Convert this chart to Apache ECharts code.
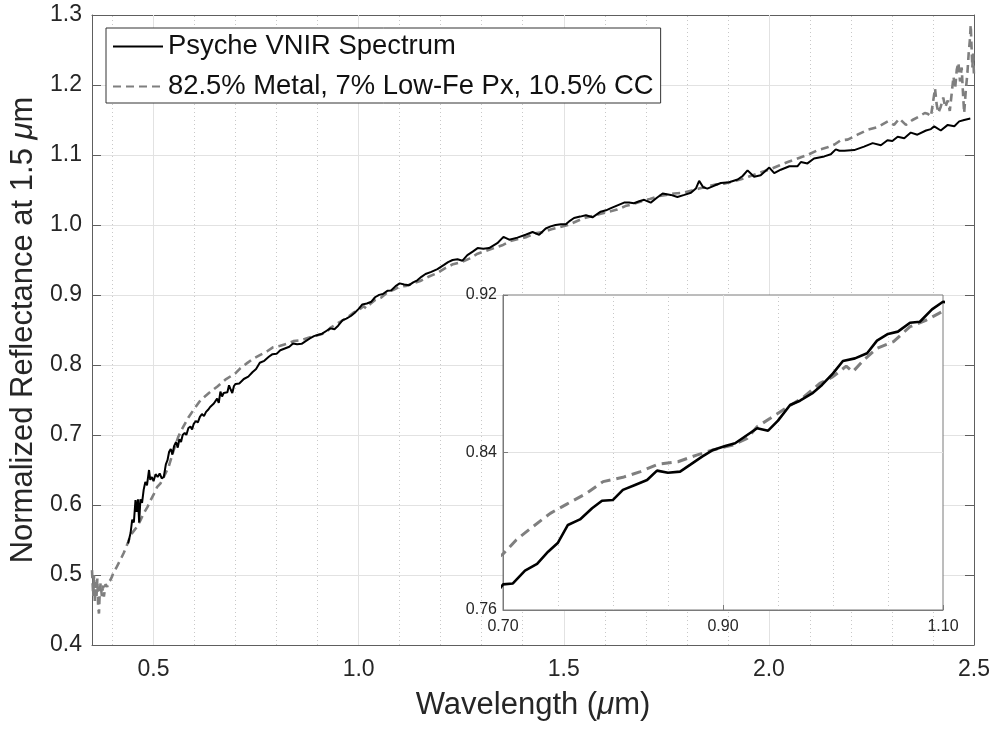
<!DOCTYPE html>
<html>
<head>
<meta charset="utf-8">
<script src="https://cdn.jsdelivr.net/npm/echarts@6/dist/echarts.min.js"></script>
<style>
  html, body { margin: 0; padding: 0; background: #fff; }
  #chart { width: 995px; height: 730px; }
</style>
</head>
<body>
<div id="chart"></div>
<script>
// Psyche VNIR spectrum (black)
var psycheWl = [0.438,0.444,0.448,0.452,0.456,0.459,0.462,0.465,0.468,0.472,0.476,0.480,0.484,0.489,0.492,0.496,0.500,0.505,0.510,0.515,0.520,0.525,0.530,0.534,0.538,0.542,0.546,0.550,0.555,0.559,0.563,0.567,0.571,0.576,0.580,0.585,0.590,0.594,0.598,0.603,0.608,0.613,0.618,0.623,0.628,0.633,0.638,0.642,0.647,0.651,0.655,0.659,0.663,0.667,0.671,0.675,0.680,0.684,0.688,0.692,0.696,0.700,
  0.709,0.720,0.731,0.741,0.750,0.759,0.770,0.781,0.790,0.800,0.809,0.820,0.831,0.840,0.850,0.861,0.870,0.881,0.891,0.902,0.911,0.922,0.931,0.941,0.950,0.961,0.970,0.981,0.990,1.000,1.009,1.020,1.031,1.040,1.050,1.059,1.070,1.079,1.090,1.100,
  1.111,1.123,1.133,1.143,1.153,1.163,1.177,1.192,1.208,1.218,1.229,1.241,1.253,1.265,1.278,1.290,1.304,1.318,1.338,1.353,1.367,1.387,1.407,1.424,1.440,1.456,1.468,1.480,1.493,1.505,1.515,1.525,1.540,1.554,1.570,1.590,1.603,1.615,1.631,1.647,1.659,1.671,1.684,1.696,1.712,1.727,1.741,1.761,1.777,1.794,1.810,1.822,1.830,1.840,1.850,1.866,1.883,1.903,1.924,1.936,1.948,1.964,1.980,2.001,2.013,2.029,2.050,2.070,2.078,2.094,2.110,2.135,2.151,2.163,2.172,2.184,2.208,2.232,2.253,2.273,2.289,2.301,2.314,2.330,2.346,2.362,2.383,2.395,2.403,2.419,2.436,2.452,2.464,2.476,2.491];
var psycheRefl = [0.545,0.560,0.579,0.575,0.607,0.590,0.608,0.575,0.608,0.603,0.622,0.633,0.628,0.650,0.636,0.640,0.634,0.644,0.640,0.645,0.638,0.640,0.658,0.664,0.676,0.680,0.672,0.684,0.690,0.682,0.694,0.690,0.700,0.703,0.700,0.710,0.712,0.708,0.716,0.720,0.718,0.726,0.730,0.727,0.733,0.736,0.740,0.738,0.745,0.744,0.752,0.746,0.762,0.755,0.760,0.762,0.761,0.771,0.765,0.760,0.770,0.773,
  0.7735,0.780,0.7834,0.7896,0.7942,0.8032,0.806,0.8117,0.8155,0.8159,0.821,0.8235,0.826,0.8308,0.8297,0.8303,0.8337,0.8379,0.8413,0.8433,0.8447,0.8489,0.8523,0.8511,0.8562,0.8641,0.8663,0.870,0.8743,0.8802,0.8865,0.8878,0.8904,0.8968,0.9002,0.9014,0.9059,0.9064,0.9127,0.9166,
  0.915,0.914,0.918,0.921,0.926,0.930,0.933,0.937,0.943,0.947,0.950,0.951,0.949,0.957,0.962,0.967,0.966,0.967,0.974,0.983,0.979,0.982,0.986,0.990,0.986,0.995,0.998,1.000,1.001,1.001,1.006,1.010,1.012,1.014,1.011,1.019,1.021,1.024,1.028,1.032,1.032,1.031,1.034,1.036,1.032,1.039,1.045,1.043,1.040,1.043,1.046,1.052,1.063,1.054,1.052,1.056,1.060,1.061,1.065,1.070,1.078,1.069,1.071,1.082,1.074,1.079,1.084,1.084,1.090,1.088,1.095,1.098,1.101,1.108,1.106,1.106,1.107,1.112,1.117,1.114,1.121,1.120,1.126,1.124,1.132,1.129,1.135,1.137,1.141,1.135,1.143,1.141,1.148,1.150,1.152];

// model: 82.5% metal, 7% low-Fe Px, 10.5% CC (grey dashed)
var modelWl = [0.350,0.353,0.355,0.357,0.359,0.361,0.363,0.365,0.367,0.369,0.371,0.374,0.377,0.379,0.383,0.387,0.391,0.395,0.399,0.403,0.409,0.415,0.422,0.427,0.432,0.438,0.444,0.452,0.460,0.468,0.476,0.485,0.493,0.501,0.509,0.517,0.525,0.537,0.549,0.560,0.570,0.585,0.600,0.615,0.635,0.655,0.675,
  0.700,0.712,0.728,0.743,0.758,0.776,0.791,0.809,0.825,0.841,0.859,0.876,0.891,0.909,0.922,0.931,0.943,0.957,0.972,0.988,1.000,1.012,1.018,1.028,1.040,1.055,1.070,1.085,1.099,
  1.115,1.130,1.150,1.170,1.190,1.210,1.230,1.250,1.270,1.290,1.310,1.330,1.350,1.370,1.390,1.410,1.430,1.450,1.470,1.490,1.510,1.530,1.550,1.570,1.590,1.610,1.630,1.650,1.670,1.690,1.710,1.730,1.750,1.770,1.790,1.810,1.830,1.850,1.870,1.890,1.910,1.930,1.950,1.970,1.990,2.005,2.025,2.046,2.070,2.094,2.119,2.143,2.160,2.175,2.192,2.216,2.241,2.265,2.290,2.305,2.318,2.334,2.350,2.366,
  2.380,2.387,2.395,2.400,2.405,2.409,2.413,2.419,2.425,2.430,2.436,2.441,2.446,2.450,2.454,2.458,2.462,2.466,2.470,2.473,2.476,2.480,2.484,2.487,2.490,2.492,2.494,2.496,2.498,2.500];
var modelRefl = [0.507,0.470,0.500,0.462,0.490,0.470,0.495,0.455,0.445,0.478,0.488,0.470,0.485,0.469,0.487,0.483,0.490,0.493,0.498,0.505,0.510,0.517,0.525,0.531,0.538,0.547,0.557,0.563,0.569,0.578,0.588,0.597,0.607,0.616,0.626,0.631,0.640,0.655,0.678,0.697,0.709,0.725,0.738,0.750,0.760,0.769,0.779,
  0.7884,0.7956,0.8027,0.8091,0.8138,0.8193,0.8252,0.8274,0.8303,0.8341,0.8353,0.8387,0.8413,0.8438,0.8472,0.8531,0.8574,0.8625,0.8676,0.8751,0.8785,0.8839,0.881,0.887,0.8929,0.8963,0.9039,0.9073,0.9115,
  0.913,0.916,0.920,0.926,0.931,0.938,0.944,0.947,0.952,0.959,0.963,0.967,0.971,0.977,0.980,0.983,0.988,0.990,0.994,0.997,1.000,1.005,1.010,1.013,1.016,1.019,1.022,1.027,1.030,1.034,1.037,1.041,1.043,1.045,1.046,1.049,1.052,1.055,1.058,1.059,1.062,1.065,1.069,1.073,1.077,1.080,1.085,1.090,1.095,1.100,1.107,1.111,1.115,1.121,1.122,1.129,1.136,1.140,1.148,1.143,1.152,1.143,1.150,1.155,
  1.160,1.159,1.155,1.175,1.195,1.172,1.160,1.169,1.182,1.168,1.178,1.163,1.190,1.212,1.195,1.222,1.232,1.205,1.225,1.190,1.160,1.192,1.218,1.245,1.265,1.286,1.255,1.225,1.245,1.212];

// axis ticks / grid positions
var mainXTicks = [0.5, 1.0, 1.5, 2.0, 2.5];
var mainXMajorGrid = [0.5, 1.0, 1.5, 2.0];
var mainXMinorGrid = [0.4, 0.6, 0.7, 0.8, 0.9, 1.1, 1.2, 1.3, 1.4, 1.6, 1.7, 1.8, 1.9, 2.1, 2.2, 2.3, 2.4];
var insetXTicks = [0.70, 0.90, 1.10];
var insetYTicks = [0.76, 0.84, 0.92];
var insetXMajorGrid = [0.90];
var insetXMinorGrid = [0.75, 0.80, 0.85, 0.95, 1.00, 1.05];
var insetYMajorGrid = [0.84];

var FONT = '"Liberation Sans", Arial, Helvetica, sans-serif';
var TXT = '#262626';
var AXC = '#5e5e5e';

function pairs(xs, ys) {
  return xs.map(function (x, i) { return [x, ys[i]]; });
}

var gridSolid = { color: '#e2e2e2', width: 1, type: 'solid' };
var gridDot = { color: '#c8c8c8', width: 1, type: [1, 3] };

var myChart = echarts.init(document.getElementById('chart'));

myChart.setOption({
  animation: false,
  backgroundColor: '#fff',
  textStyle: { fontFamily: FONT },
  grid: [
    { left: 92, top: 15, width: 882, height: 630, show: false, outerBoundsMode: 'none', containLabel: false },
    { left: 503, top: 295, width: 440, height: 315, show: true, backgroundColor: '#fff',
      borderColor: '#7a7a7a', borderWidth: 1, z: 3, outerBoundsMode: 'none', containLabel: false }
  ],
  legend: {
    left: 106,
    top: 28,
    orient: 'vertical',
    data: ['Psyche VNIR Spectrum', '82.5% Metal, 7% Low-Fe Px, 10.5% CC'],
    itemWidth: 50,
    itemHeight: 14,
    itemGap: 13,
    padding: [5, 7, 3, 6],
    backgroundColor: '#fff',
    borderColor: '#333',
    borderWidth: 1,
    borderRadius: 0,
    selectedMode: false,
    itemStyle: { opacity: 0 },
    textStyle: { fontSize: 27.4, color: '#111', fontFamily: FONT },
    z: 10
  },
  xAxis: [
    {
      gridIndex: 0, type: 'value', position: 'bottom', min: 0.35, max: 2.5,
      name: '{a|Wavelength (}{i|μ}{a|m)}',
      nameLocation: 'middle', nameGap: 45,
      nameTextStyle: { rich: {
        a: { fontSize: 31, color: TXT, fontFamily: FONT },
        i: { fontSize: 31, color: TXT, fontFamily: FONT, fontStyle: 'italic' }
      } },
      axisLine: { show: true, onZero: false, lineStyle: { color: AXC, width: 1 } },
      axisTick: { show: true, inside: true, length: 9, customValues: mainXTicks, lineStyle: { color: AXC } },
      axisLabel: { customValues: mainXTicks, fontSize: 23, color: TXT, margin: 13, fontFamily: FONT,
        showMinLabel: true, showMaxLabel: true,
        formatter: function (v) { return v.toFixed(1); } },
      splitLine: { show: false }
    },
    {
      gridIndex: 0, type: 'value', position: 'top', min: 0.35, max: 2.5,
      axisLine: { show: true, onZero: false, lineStyle: { color: AXC, width: 1 } },
      axisTick: { show: true, inside: true, length: 9, customValues: mainXTicks, lineStyle: { color: AXC } },
      axisLabel: { show: false },
      splitLine: { show: false }
    },
    {
      gridIndex: 1, type: 'value', position: 'bottom', min: 0.7, max: 1.1, z: 4,
      axisLine: { show: true, onZero: false, lineStyle: { color: '#7a7a7a', width: 1 } },
      axisTick: { show: true, inside: true, length: 5, customValues: insetXTicks, lineStyle: { color: '#7a7a7a' } },
      axisLabel: { customValues: insetXTicks, fontSize: 16, color: TXT, margin: 9, fontFamily: FONT,
        showMinLabel: true, showMaxLabel: true,
        formatter: function (v) { return v.toFixed(2); } },
      splitLine: { show: false }
    }
  ],
  yAxis: [
    {
      gridIndex: 0, type: 'value', position: 'left', min: 0.4, max: 1.3, interval: 0.1,
      name: '{a|Normalized Reflectance at 1.5 }{i|μ}{a|m}',
      nameLocation: 'middle', nameGap: 50, nameRotate: 90,
      nameTextStyle: { rich: {
        a: { fontSize: 31, color: TXT, fontFamily: FONT },
        i: { fontSize: 31, color: TXT, fontFamily: FONT, fontStyle: 'italic' }
      } },
      axisLine: { show: true, onZero: false, lineStyle: { color: AXC, width: 1 } },
      axisTick: { show: true, inside: true, length: 9, lineStyle: { color: AXC } },
      axisLabel: { fontSize: 23, color: TXT, margin: 10, fontFamily: FONT,
        showMinLabel: true, showMaxLabel: true,
        formatter: function (v) { return v.toFixed(1); } },
      splitLine: { show: true, lineStyle: gridSolid }
    },
    {
      gridIndex: 0, type: 'value', position: 'right', min: 0.4, max: 1.3, interval: 0.1,
      axisLine: { show: true, onZero: false, lineStyle: { color: AXC, width: 1 } },
      axisTick: { show: true, inside: true, length: 9, lineStyle: { color: AXC } },
      axisLabel: { show: false },
      splitLine: { show: false }
    },
    {
      gridIndex: 1, type: 'value', position: 'left', min: 0.76, max: 0.92, z: 4,
      axisLine: { show: true, onZero: false, lineStyle: { color: '#7a7a7a', width: 1 } },
      axisTick: { show: true, inside: true, length: 5, customValues: insetYTicks, lineStyle: { color: '#7a7a7a' } },
      axisLabel: { customValues: insetYTicks, fontSize: 16, color: TXT, margin: 6, fontFamily: FONT,
        showMinLabel: true, showMaxLabel: true,
        formatter: function (v) { return v.toFixed(2); } },
      splitLine: { show: false }
    }
  ],
  series: [
    {
      name: 'Psyche VNIR Spectrum', type: 'line', xAxisIndex: 0, yAxisIndex: 0,
      data: pairs(psycheWl, psycheRefl), showSymbol: false, symbol: 'none', z: 3,
      lineStyle: { color: '#000', width: 2 }, itemStyle: { color: '#000' }
    },
    {
      name: '82.5% Metal, 7% Low-Fe Px, 10.5% CC', type: 'line', xAxisIndex: 0, yAxisIndex: 0,
      data: pairs(modelWl, modelRefl), showSymbol: false, symbol: 'none', z: 2,
      lineStyle: { color: '#7f7f7f', width: 2.6, type: [8, 5] }, itemStyle: { color: '#7f7f7f' }
    },
    {
      name: 'Psyche VNIR Spectrum', type: 'line', xAxisIndex: 2, yAxisIndex: 2,
      data: pairs(psycheWl, psycheRefl), showSymbol: false, symbol: 'none', z: 7, clip: true,
      lineStyle: { color: '#000', width: 2.6 }
    },
    {
      name: '82.5% Metal, 7% Low-Fe Px, 10.5% CC', type: 'line', xAxisIndex: 2, yAxisIndex: 2,
      data: pairs(modelWl, modelRefl), showSymbol: false, symbol: 'none', z: 6, clip: true,
      lineStyle: { color: '#7f7f7f', width: 3, type: [10, 6] }
    },
    {
      name: 'mainGrid', type: 'line', xAxisIndex: 0, yAxisIndex: 0, data: [], silent: true, z: 1,
      markLine: {
        silent: true, symbol: ['none', 'none'], label: { show: false }, z: 1, animation: false,
        data: mainXMajorGrid.map(function (v) { return { xAxis: v, lineStyle: gridSolid }; })
          .concat(mainXMinorGrid.map(function (v) { return { xAxis: v, lineStyle: gridDot }; }))
      }
    },
    {
      name: 'insetGrid', type: 'line', xAxisIndex: 2, yAxisIndex: 2, data: [], silent: true, z: 4,
      markLine: {
        silent: true, symbol: ['none', 'none'], label: { show: false }, z: 4, animation: false,
        data: insetXMajorGrid.map(function (v) { return { xAxis: v, lineStyle: gridSolid }; })
          .concat(insetXMinorGrid.map(function (v) { return { xAxis: v, lineStyle: gridDot }; }))
          .concat(insetYMajorGrid.map(function (v) { return { yAxis: v, lineStyle: gridSolid }; }))
      }
    }
  ]
});
</script>
</body>
</html>
